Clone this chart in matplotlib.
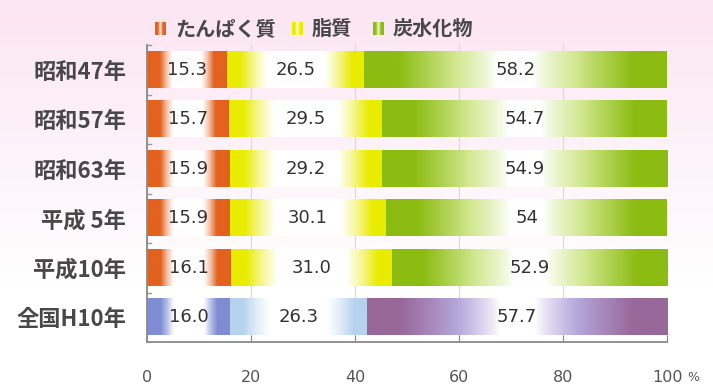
import numpy as np
import matplotlib
matplotlib.use('Agg')
import matplotlib.pyplot as plt
from matplotlib.colors import LinearSegmentedColormap, to_rgba

plt.rcParams['font.family'] = ['Noto Sans CJK JP', 'DejaVu Sans']

# energy share by nutrient (%)
years = ['昭和47年', '昭和57年', '昭和63年', '平成 5年', '平成10年', '全国H10年']
protein = ['15.3', '15.7', '15.9', '15.9', '16.1', '16.0']
fat = ['26.5', '29.5', '29.2', '30.1', '31.0', '26.3']
carb = ['58.2', '54.7', '54.9', '54', '52.9', '57.7']
names = ['たんぱく質', '脂質', '炭水化物']
xticks = [0, 20, 40, 60, 80, 100]

# gradient colours (local rows / national row), white centre -> edge
local_cols = [['#f4c0a4', '#e2621e'], ['#f6f690', '#e9ec00'], ['#d2e890', '#8cbc12']]
nat_cols = [['#b8c0ea', '#7f8cd2'], ['#e0ecf8', '#b6d2ee'], ['#b6a8dc', '#98689a']]
# (white half-width, ramp width, gamma) per nutrient
shape = [(0.36, 0.32, 1.0), (0.42, 0.4, 1.0), (0.12, 0.66, 0.8)]

fig = plt.figure(figsize=(7.13, 3.85), dpi=100)

# pink-to-white backdrop
bg = fig.add_axes([0, 0, 1, 1], zorder=-10)
g = np.linspace(0, 1, 256)[:, None]
top = np.array(to_rgba('#fbe5f2'))
bot = np.array(to_rgba('#ffffff'))
w = np.clip(g / 0.75, 0, 1)
img = top[None, None, :] * (1 - w[..., None]) + bot[None, None, :] * w[..., None]
bg.imshow(img, extent=(0, 713, 385, 0), aspect='auto')
bg.set_xlim(0, 713)
bg.set_ylim(385, 0)
bg.axis('off')


def profile(c0, width, gam, n=300):
    t = np.linspace(0, 1, n)
    d = np.abs(2 * t - 1)
    return np.clip((d - c0) / width, 0, 1) ** gam


def grad_rect(axis, x0, x1, y0, y1, cols, shp, z=2):
    cm = LinearSegmentedColormap.from_list('r', ['#ffffff'] + cols)
    axis.imshow(cm(profile(*shp))[None, :, :], extent=(x0, x1, y1, y0),
                aspect='auto', interpolation='bilinear', zorder=z)


ax = fig.add_axes([147 / 713, 1 - 342 / 385, 520 / 713, 297 / 385])
ax.patch.set_alpha(0)

h = 0.73
for i, yr in enumerate(years):
    vals = [float(protein[i]), float(fat[i]), float(carb[i])]
    labs = [protein[i], fat[i], carb[i]]
    cols = nat_cols if i == len(years) - 1 else local_cols
    left = 0.0
    for j, v in enumerate(vals):
        grad_rect(ax, left, left + v, i - h / 2, i + h / 2, cols[j], shape[j])
        ax.text(left + v / 2, i, labs[j], ha='center', va='center',
                fontsize=13, color='#333333', family='DejaVu Sans', zorder=4)
        left += v

ax.set_xlim(0, 100)
ax.set_ylim(len(years) - 0.5, -0.5)
ax.set_xticks(xticks)
ax.set_xticklabels([str(x) for x in xticks])
ax.tick_params(axis='x', direction='in', length=5, color='#8a8a8a', pad=20,
               labelsize=11.5, labelcolor='#555555')
ax.set_yticks(np.arange(len(years)))
ax.set_yticklabels(years)
ax.tick_params(axis='y', length=0, pad=15, labelsize=16, labelcolor='#484848')
for lab in ax.get_yticklabels():
    lab.set_fontweight('bold')
for lab in ax.get_xticklabels():
    lab.set_family('DejaVu Sans')

# short marks between rows on the left axis
for k in np.arange(-0.5, len(years) - 0.5, 1.0):
    ax.plot([0, 0.8], [k, k], color='#9a9a9a', lw=1, zorder=1, clip_on=False)

ax.grid(axis='x', color='#ddd4dd', lw=0.8, zorder=0)
ax.set_axisbelow(True)
for s in ['top', 'right']:
    ax.spines[s].set_visible(False)
for s in ['left', 'bottom']:
    ax.spines[s].set_color('#8a8a8a')
    ax.spines[s].set_linewidth(1.3)

ax.text(103.9, -0.118, '%', transform=ax.get_xaxis_transform(), fontsize=9,
        color='#555555', ha='left', va='center', family='DejaVu Sans')

# legend
lx = [155, 292, 373]
for j, name in enumerate(names):
    grad_rect(bg, lx[j], lx[j] + 11, 22, 35, local_cols[j], (0.0, 0.5, 0.6), z=3)
    bg.text(lx[j] + 20, 28.5, name, fontsize=14.5, fontweight='bold',
            color='#484848', ha='left', va='center')

fig.savefig('out.png', dpi=100)
